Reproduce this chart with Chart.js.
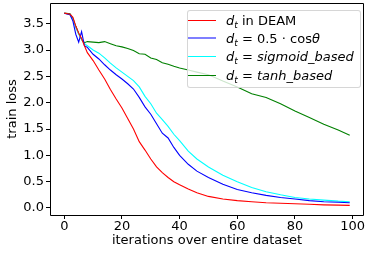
<!DOCTYPE html>
<html>
<head>
<meta charset="utf-8">
<script src="https://cdn.jsdelivr.net/npm/chart.js@4.4.0/dist/chart.umd.min.js"></script>
<style>
  body { margin: 0; background: #fff; }
  #wrap { position: relative; width: 365px; height: 253px; }
  #legend {
    position: absolute; left: 187px; top: 10px; width: 172px;
    padding: 0 0 3px 0;
    background: rgba(255,255,255,0.8);
    border: 1px solid rgba(204,204,204,0.8); border-radius: 3px;
    font-family: 'DejaVu Sans', sans-serif; font-size: 13px; color: #000;
  }
  .row { display: flex; align-items: center; height: 18.3px; white-space: nowrap; }
  .handle { display: inline-block; width: 28px; margin-right: 10px; }
  .row i { font-style: italic; }
  .row sub { font-size: 9px; font-style: italic; vertical-align: -3px; line-height: 0; }
</style>
</head>
<body>
<div id="wrap">
  <canvas id="lossChart" width="365" height="253"></canvas>
  <div id="legend"></div>
</div>
<script>
const iterations = [0, 2, 3, 4, 5, 6, 7, 8, 10, 12, 14, 16, 18, 20, 22, 24, 26, 28, 30, 32, 34, 36, 38, 40, 43, 46, 50, 55, 60, 65, 70, 75, 80, 85, 90, 95, 99];

const lossDeam    = [3.70, 3.68, 3.62, 3.45, 3.32, 3.22, 3.08, 2.95, 2.80, 2.62, 2.45, 2.25, 2.07, 1.90, 1.70, 1.50, 1.26, 1.10, 0.93, 0.78, 0.67, 0.58, 0.50, 0.44, 0.36, 0.29, 0.22, 0.17, 0.14, 0.12, 0.10, 0.09, 0.08, 0.07, 0.06, 0.055, 0.05];
const lossCos     = [3.70, 3.67, 3.55, 3.30, 3.15, 3.35, 3.08, 3.05, 2.92, 2.83, 2.72, 2.62, 2.53, 2.45, 2.36, 2.26, 2.10, 1.92, 1.78, 1.60, 1.42, 1.33, 1.15, 1.00, 0.83, 0.70, 0.58, 0.45, 0.35, 0.29, 0.24, 0.20, 0.17, 0.14, 0.12, 0.11, 0.10];
const lossSigmoid = [3.70, 3.67, 3.58, 3.42, 3.30, 3.20, 3.12, 3.08, 3.00, 2.94, 2.85, 2.75, 2.66, 2.58, 2.50, 2.42, 2.30, 2.12, 1.98, 1.80, 1.68, 1.55, 1.40, 1.28, 1.08, 0.93, 0.78, 0.62, 0.50, 0.39, 0.31, 0.25, 0.20, 0.17, 0.15, 0.13, 0.12];
const lossTanh    = [3.70, 3.69, 3.60, 3.45, 3.32, 3.20, 3.14, 3.16, 3.15, 3.14, 3.16, 3.12, 3.08, 3.06, 3.03, 2.99, 2.93, 2.92, 2.85, 2.82, 2.76, 2.73, 2.69, 2.66, 2.62, 2.58, 2.53, 2.41, 2.30, 2.17, 2.10, 1.98, 1.84, 1.72, 1.59, 1.48, 1.38];

const xTicks = [0, 20, 40, 60, 80, 100];
const yTicks = [0.0, 0.5, 1.0, 1.5, 2.0, 2.5, 3.0, 3.5];

const series = [
  { html: '<i>d</i><sub>t</sub> in DEAM', values: lossDeam, color: '#ff0000', handle: '#ff0000', handleWidth: 1 },
  { html: '<i>d</i><sub>t</sub> = 0.5 \u00b7 cos<i>\u03b8</i>', values: lossCos, color: '#0000ff', handle: 'rgba(0,0,255,0.5)', handleWidth: 2 },
  { html: '<i>d</i><sub>t</sub> = <i>sigmoid_based</i>', values: lossSigmoid, color: '#00ffff', handle: '#00ffff', handleWidth: 1 },
  { html: '<i>d</i><sub>t</sub> = <i>tanh_based</i>', values: lossTanh, color: '#008000', handle: '#008000', handleWidth: 1 }
];

Chart.defaults.font.family = "'DejaVu Sans', sans-serif";
Chart.defaults.font.size = 13;
Chart.defaults.color = '#000';

// black box round the plot area, like matplotlib spines
const frame = {
  id: 'frame',
  afterDatasetsDraw(chart) {
    const a = chart.chartArea;
    const c = chart.ctx;
    const l = Math.round(a.left) + 0.5, r = Math.round(a.right) - 0.5;
    const t = Math.round(a.top) + 0.5, b = Math.round(a.bottom) + 0.5;
    c.save();
    c.strokeStyle = '#000';
    c.lineWidth = 1;
    c.beginPath();
    c.moveTo(l, t); c.lineTo(r, t); c.lineTo(r, b); c.lineTo(l, b); c.closePath();
    c.stroke();
    c.restore();
  }
};

const ctx = document.getElementById('lossChart').getContext('2d');
new Chart(ctx, {
  type: 'line',
  data: {
    datasets: series.map(s => ({
      data: iterations.map((x, i) => ({ x: x, y: s.values[i] })),
      borderColor: s.color,
      borderWidth: 1.1,
      pointRadius: 0,
      fill: false,
      tension: 0
    }))
  },
  options: {
    responsive: false,
    animation: false,
    devicePixelRatio: 1,
    layout: { padding: { left: 0, top: 3, right: 1, bottom: 0 } },
    plugins: { legend: { display: false }, tooltip: { enabled: false } },
    scales: {
      x: {
        type: 'linear',
        min: -4.95,
        max: 103.95,
        afterBuildTicks: scale => { scale.ticks = xTicks.map(v => ({ value: v })); },
        afterFit: scale => { scale.height = 38; scale.paddingLeft = 0; scale.paddingRight = 0; },
        ticks: { maxRotation: 0, padding: 0, callback: v => String(v) },
        grid: { drawOnChartArea: false, tickLength: 4, tickColor: '#000', tickWidth: 1 },
        border: { display: false },
        title: { display: true, text: 'iterations over entire dataset', padding: { top: 0, bottom: 5 } }
      },
      y: {
        min: -0.133,
        max: 3.893,
        afterBuildTicks: scale => { scale.ticks = yTicks.map(v => ({ value: v })); },
        afterFit: scale => { scale.width = 50; scale.paddingTop = 0; scale.paddingBottom = 0; },
        ticks: { padding: 2, callback: v => v.toFixed(1) },
        grid: { drawOnChartArea: false, tickLength: 4, tickColor: '#000', tickWidth: 1 },
        border: { display: false },
        title: { display: true, text: 'train loss', padding: { top: 4.5, bottom: 0 } }
      }
    }
  },
  plugins: [frame]
});

// legend with the subscripted labels
const legend = document.getElementById('legend');
series.forEach(s => {
  const row = document.createElement('div');
  row.className = 'row';
  const h = document.createElement('span');
  h.className = 'handle';
  h.style.borderTop = s.handleWidth + 'px solid ' + s.handle;
  row.appendChild(h);
  const label = document.createElement('span');
  label.innerHTML = s.html;
  row.appendChild(label);
  legend.appendChild(row);
});
</script>
</body>
</html>
